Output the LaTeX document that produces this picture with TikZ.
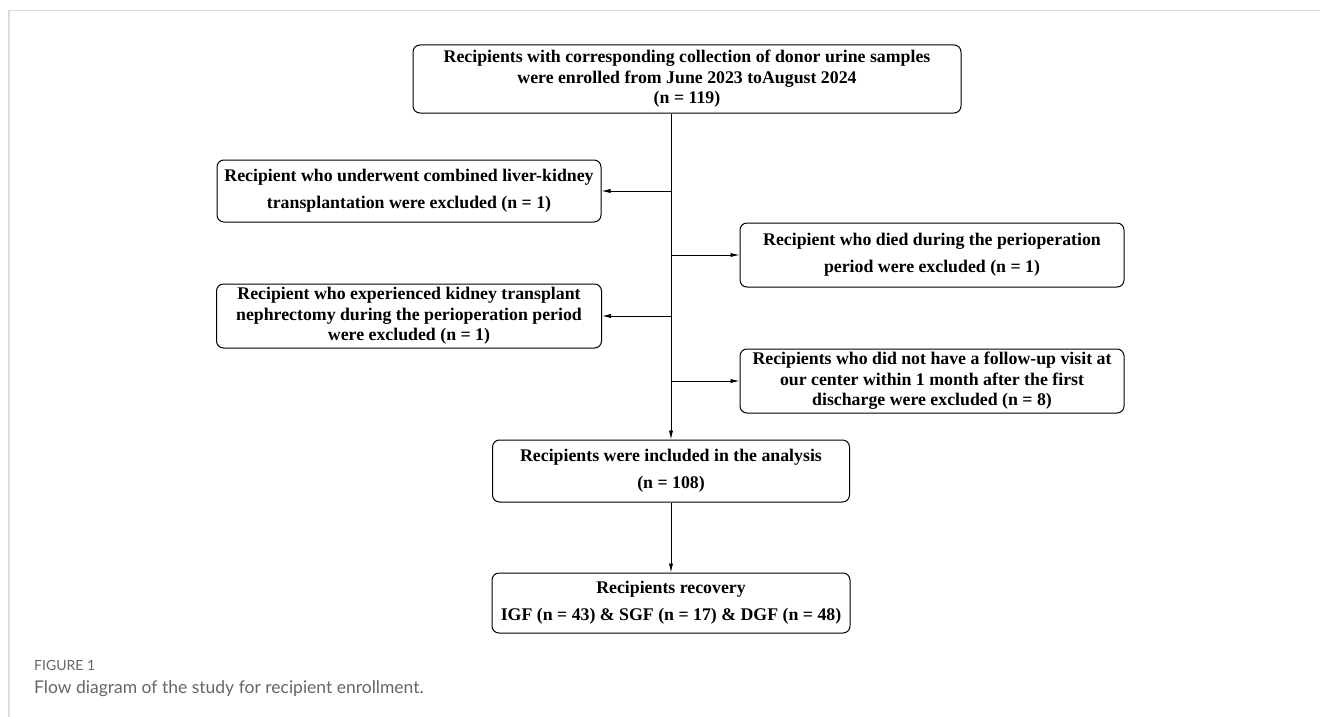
\documentclass[tikz,border=0pt]{standalone}
\usepackage{fontspec}
\setmainfont{Liberation Serif}
\newfontfamily\capfont{Lato}
\usepackage{xcolor}
\usetikzlibrary{calc,arrows.meta}

\definecolor{framegray}{HTML}{DCDCDC}
\definecolor{capgray}{HTML}{65666A}

\begin{document}
\begin{tikzpicture}[x=1pt,y=-1pt,
  box/.style={draw,line width=1pt,rounded corners=7pt,align=center,inner sep=0pt,
    font=\fontsize{17.8}{20.5}\selectfont\bfseries},
  loose/.style={font=\fontsize{17.8}{27}\selectfont\bfseries},
  arr/.style={line width=0.85pt,-{Latex[length=9pt,width=4.2pt]}}]

  % Fix the page size
  \useasboundingbox (0,0) rectangle (1320,717);

  % Frame lines
  \draw[framegray,line width=1.5pt] (9,717) -- (9,10.5) -- (1320,10.5);

  % Boxes of the flow
  \node[box,minimum width=548,minimum height=68] (enrolled) at (687,79)
    {Recipients with corresponding collection of donor urine samples\\
     were enrolled from June 2023 toAugust 2024\\ (n = 119)};
  \node[box,loose,minimum width=384,minimum height=62] (exLiver) at (409,191)
    {Recipient who underwent combined liver-kidney\\
     transplantation were excluded (n = 1)};
  \node[box,loose,minimum width=384,minimum height=64] (exDied) at (932,255)
    {Recipient who died during the perioperation\\
     period were excluded (n = 1)};
  \node[box,minimum width=385,minimum height=64] (exNephr) at (409,316)
    {Recipient who experienced kidney transplant\\
     nephrectomy during the perioperation period\\
     were excluded (n = 1)};
  \node[box,minimum width=384,minimum height=64] (exFollow) at (932,381)
    {Recipients who did not have a follow-up visit at\\
     our center within 1 month after the first\\
     discharge were excluded (n = 8)};
  \node[box,loose,minimum width=357,minimum height=62] (included) at (671,471)
    {Recipients were included in the analysis\\ (n = 108)};
  \node[box,loose,minimum width=358,minimum height=60] (recovery) at (671,603)
    {Recipients recovery\\ IGF (n = 43) \& SGF (n = 17) \& DGF (n = 48)};

  % Main line and side arrows
  \coordinate (trunk) at (included.north |- enrolled.south);
  \draw[arr] (trunk) -- (included.north);
  \draw[arr] (trunk |- exLiver.east) -- (exLiver.east);
  \draw[arr] (trunk |- exDied.west) -- (exDied.west);
  \draw[arr] (trunk |- exNephr.east) -- (exNephr.east);
  \draw[arr] (trunk |- exFollow.west) -- (exFollow.west);
  \draw[arr] (included.south) -- (recovery.north);

  % Caption
  \node[anchor=base west,inner sep=0pt,capgray,font=\capfont\fontsize{14}{16}\selectfont] (figno) at (34,670) {FIGURE 1};
  \node[anchor=base west,inner sep=0pt,capgray,font=\capfont\fontsize{17.5}{20}\selectfont] (caption) at (34,693)
    {Flow diagram of the study for recipient enrollment.};

\end{tikzpicture}
\end{document}
